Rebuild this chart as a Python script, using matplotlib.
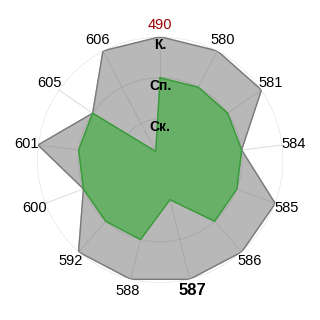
import numpy as np
import matplotlib.pyplot as plt

plt.rcParams['font.family'] = ['Liberation Sans', 'DejaVu Sans']

categories = ['490', '580', '581', '584', '585', '586', '587', '588', '592', '600', '601', '605', '606']
outer_vals = [3, 3, 3, 2, 3, 3, 3, 3, 3, 2, 3, 2, 3]
inner_vals = [2, 2, 2, 2, 2, 2, 1, 2, 2, 2, 2, 2, 0.23]
level_labels = ['Ск.', 'Сп.', 'К.']
level_vals = [1, 2, 3]

n = len(categories)
theta = np.arange(n) * 2 * np.pi / n
theta_c = np.append(theta, theta[0])

fig = plt.figure(figsize=(3.2, 3.2), dpi=100)
ax = fig.add_axes([0.116, 0.116, 0.769, 0.769], projection='polar')
ax.set_theta_zero_location('N')
ax.set_theta_direction(-1)

ax.fill(theta_c, outer_vals + outer_vals[:1], color='#b8b8b8', zorder=1)
ax.plot(theta_c, outer_vals + outer_vals[:1], color='#7a7a7a', lw=1, zorder=2)
ax.fill(theta_c, inner_vals + inner_vals[:1], color='#68b068', zorder=3)
ax.plot(theta_c, inner_vals + inner_vals[:1], color='#3a9a3a', lw=1, zorder=4)

ax.set_ylim(0, 3)
ax.set_yticks(level_vals)
ax.set_yticklabels([])
ax.set_xticks(theta)
ax.set_xticklabels(categories, fontsize=10.5)
ax.tick_params(axis='x', pad=-2)
ax.set_axisbelow(False)
ax.grid(True, color='#808080', alpha=0.25, lw=0.8)
ax.spines['polar'].set_visible(False)

labels = ax.get_xticklabels()
labels[0].set_color('#990000')
labels[6].set_fontweight('bold')
labels[6].set_fontsize(12)

for lab, v in zip(level_labels, level_vals):
    ax.text(0, v - 0.2, lab, ha='center', va='center', fontsize=10,
            fontweight='bold', zorder=10)

fig.savefig('out.png', dpi=100)
